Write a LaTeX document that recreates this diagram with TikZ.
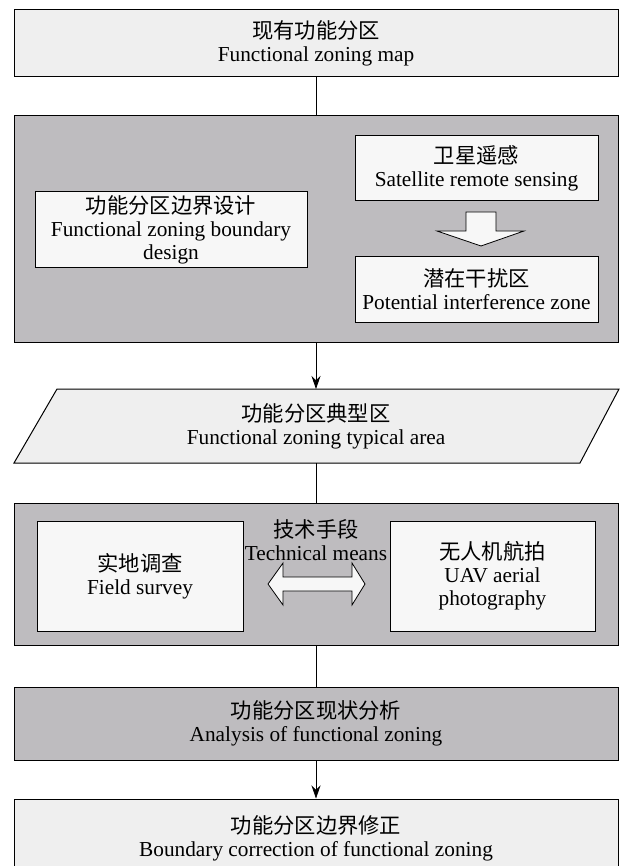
\documentclass[tikz,border=0pt]{standalone}
\usepackage{fontspec}
\setmainfont{Liberation Serif}
\newfontfamily\cjk{Noto Sans CJK SC}
\usetikzlibrary{arrows.meta}
\definecolor{lightfill}{HTML}{EFEFEF}
\definecolor{darkfill}{HTML}{BEBCBF}
\definecolor{innerfill}{HTML}{F7F7F7}
\begin{document}
\begin{tikzpicture}[x=1pt,y=-1pt,
  font=\fontsize{21.3}{23}\selectfont,
  base/.style={draw=black,line width=1pt,align=center,inner sep=0pt},
  lightbox/.style={base,fill=lightfill},
  darkbox/.style={base,fill=darkfill},
  innerbox/.style={base,fill=innerfill},
  conn/.style={line width=0.8pt,draw=black},
  arr/.style={conn,-{Stealth[length=13pt,width=9pt]}},
  blockarrow/.style={draw=black,line width=0.8pt,fill=innerfill,line join=miter}]
\useasboundingbox (0,0) rectangle (619,866);

% top box
\node[lightbox,minimum width=604,minimum height=67] (map) at (316,43.5)
  {{\cjk 现有功能分区}\\Functional zoning map};

% container 1
\node[darkbox,minimum width=604,minimum height=226] (c1) at (316,229) {};
\node[innerbox,minimum width=272,minimum height=76] (design) at (171,230)
  {{\cjk 功能分区边界设计}\\Functional zoning boundary\\design};
\node[innerbox,minimum width=243,minimum height=65] (sat) at (476.5,168.5)
  {{\cjk 卫星遥感}\\Satellite remote sensing};
\node[innerbox,minimum width=243,minimum height=65] (pot) at (476.5,289.5)
  {{\cjk 潜在干扰区}\\Potential interference zone};
\draw[blockarrow] (466,212) -- (496,212) -- (496,231) -- (524,231) -- (481,246)
  -- (437,231) -- (466,231) -- cycle;

% parallelogram
\coordinate (typtop) at (316,389);
\coordinate (typbot) at (316,463);
\draw[line width=1pt,fill=lightfill] (57,389) -- (619,389) -- (580,463) -- (14,463) -- cycle;
\node[align=center] (typ) at (316,426) {{\cjk 功能分区典型区}\\Functional zoning typical area};

% container 2
\node[darkbox,minimum width=604,minimum height=142] (c2) at (316,574) {};
\node[innerbox,minimum width=206,minimum height=110] (field) at (140,576)
  {{\cjk 实地调查}\\Field survey};
\node[innerbox,minimum width=205,minimum height=110] (uav) at (492.5,576)
  {{\cjk 无人机航拍}\\UAV aerial\\photography};
\node[align=center,inner sep=0pt] (tech) at (316,540) {{\cjk 技术手段}\\Technical means};
\draw[blockarrow] (268,584) -- (283,563) -- (283,577) -- (352,577) -- (352,563)
  -- (365,584) -- (352,605) -- (352,591) -- (283,591) -- (283,605) -- cycle;

% analysis
\node[darkbox,minimum width=604,minimum height=73] (ana) at (316,723.5)
  {{\cjk 功能分区现状分析}\\Analysis of functional zoning};

% final
\node[lightbox,minimum width=604,minimum height=78] (fin) at (316,838)
  {{\cjk 功能分区边界修正}\\Boundary correction of functional zoning};

% connectors
\draw[conn] (map.south) -- (c1.north);
\draw[arr] (c1.south) -- (typtop);
\draw[conn] (typbot) -- (c2.north);
\draw[conn] (c2.south) -- (ana.north);
\draw[arr] (ana.south) -- (fin.north);
\end{tikzpicture}
\end{document}
